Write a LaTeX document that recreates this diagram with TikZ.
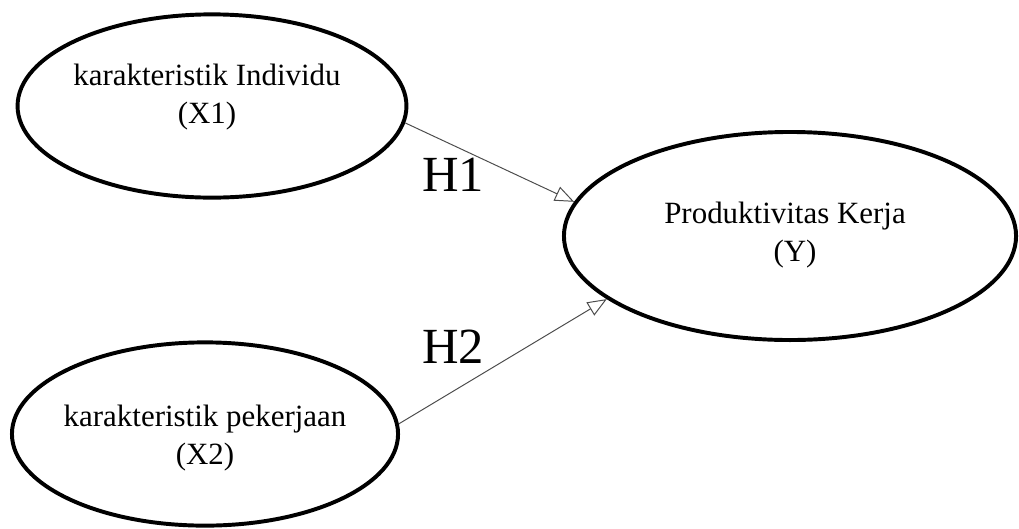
\documentclass[tikz,border=0pt]{standalone}
\usepackage{fontspec}
\setmainfont{Liberation Serif}
\usetikzlibrary{shapes.geometric,arrows.meta}

\begin{document}
\begin{tikzpicture}[x=0.025cm,y=-0.025cm,>={Triangle[open,length=0.48cm,width=0.38cm]}]

        % Fixer le cadre de l'image
        \useasboundingbox (0,0) rectangle (1019,528);

        % Styles des variables, des textes et des fleches
        \tikzset{varbox/.style={ellipse, draw, line width=2.8pt, inner sep=0pt},
                 texte/.style={align=center, inner sep=0pt, font=\fontsize{22}{27}\selectfont},
                 hypo/.style={inner sep=0pt, font=\fontsize{36}{40}\selectfont},
                 lien/.style={->, black!70, line width=0.7pt}}

        % Dessiner les trois ellipses
        \node[varbox, minimum width=9.72cm, minimum height=4.58cm] (X1) at (212,106) {};
        \node[varbox, minimum width=9.65cm, minimum height=4.58cm] (X2) at (205,434) {};
        \node[varbox, minimum width=11.3cm, minimum height=5.2cm] (Y) at (790,236) {};

        % Ajouter les textes dans les ellipses
        \node[texte] (tX1) at (207,97) {karakteristik Individu\\(X1)};
        \node[texte] (tX2) at (205,438) {karakteristik pekerjaan\\(X2)};
        \node[texte] (tY) at (785,235) {Produktivitas Kerja\\\hspace*{0.5cm}(Y)};

        % Dessiner les fleches des hypotheses
        \draw[lien] (X1.-5) -- (Y.171);
        \draw[lien] (X2.3) -- (Y.199);

        % Etiquettes H1 et H2
        \node[hypo] (H1) at (453,175) {H1};
        \node[hypo] (H2) at (453,347) {H2};
    \end{tikzpicture}
\end{document}
